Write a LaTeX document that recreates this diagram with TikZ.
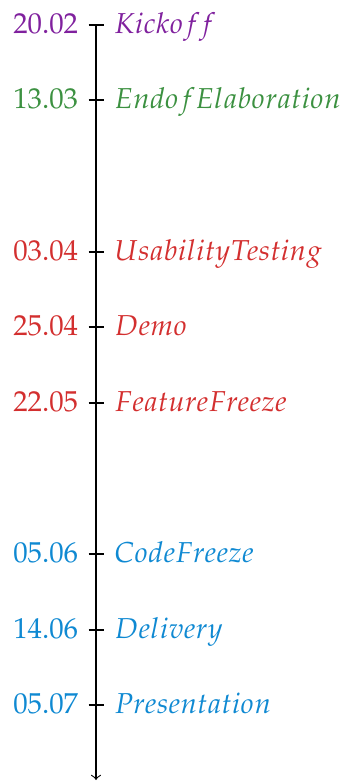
\documentclass[tikz,border=0pt]{standalone}
\usepackage[T1]{fontenc}
\usepackage{mathpazo}
\usetikzlibrary{positioning}
\definecolor{phaseone}{RGB}{128,33,158}
\definecolor{phasetwo}{RGB}{60,145,65}
\definecolor{phasethree}{RGB}{211,47,47}
\definecolor{phasefour}{RGB}{15,137,210}
\begin{document}
\begin{tikzpicture}[x=0.347pt,y=0.347pt,yscale=-1,xscale=1,
  datelbl/.style={inner sep=0pt,text height=1.5ex,text depth=.25ex},
  eventlbl/.style={inner sep=0pt,text height=1.5ex,text depth=.25ex}]
	\useasboundingbox (0,0) rectangle (346,781);
	% axis
	\coordinate (t1) at (96,25);
	\coordinate (t2) at (96,100);
	\coordinate (t3) at (96,252);
	\coordinate (t4) at (96,327);
	\coordinate (t5) at (96,403);
	\coordinate (t6) at (96,554);
	\coordinate (t7) at (96,630);
	\coordinate (t8) at (96,705);
	\coordinate (tend) at (96,780);
	\draw [->] (t1) -- (tend);
	% ticks
	\draw (t1) +(-7.5,0) -- +(7.5,0);
	\draw (t2) +(-7.5,0) -- +(7.5,0);
	\draw (t3) +(-7.5,0) -- +(7.5,0);
	\draw (t4) +(-7.5,0) -- +(7.5,0);
	\draw (t5) +(-7.5,0) -- +(7.5,0);
	\draw (t6) +(-7.5,0) -- +(7.5,0);
	\draw (t7) +(-7.5,0) -- +(7.5,0);
	\draw (t8) +(-7.5,0) -- +(7.5,0);
	% dates
	\node [datelbl, left=6pt of t1, text=phaseone] (d1) {20.02};
	\node [datelbl, left=6pt of t2, text=phasetwo] (d2) {13.03};
	\node [datelbl, left=6pt of t3, text=phasethree] (d3) {03.04};
	\node [datelbl, left=6pt of t4, text=phasethree] (d4) {25.04};
	\node [datelbl, left=6pt of t5, text=phasethree] (d5) {22.05};
	\node [datelbl, left=6pt of t6, text=phasefour] (d6) {05.06};
	\node [datelbl, left=6pt of t7, text=phasefour] (d7) {14.06};
	\node [datelbl, left=6pt of t8, text=phasefour] (d8) {05.07};
	% events
	\node [eventlbl, right=6.2pt of t1, text=phaseone] (e1) {$Kickoff$};
	\node [eventlbl, right=6.2pt of t2, text=phasetwo] (e2) {$EndofElaboration$};
	\node [eventlbl, right=6.2pt of t3, text=phasethree] (e3) {$UsabilityTesting$};
	\node [eventlbl, right=6.2pt of t4, text=phasethree] (e4) {$Demo$};
	\node [eventlbl, right=6.2pt of t5, text=phasethree] (e5) {$FeatureFreeze$};
	\node [eventlbl, right=6.2pt of t6, text=phasefour] (e6) {$CodeFreeze$};
	\node [eventlbl, right=6.2pt of t7, text=phasefour] (e7) {$Delivery$};
	\node [eventlbl, right=6.2pt of t8, text=phasefour] (e8) {$Presentation$};
\end{tikzpicture}
\end{document}
